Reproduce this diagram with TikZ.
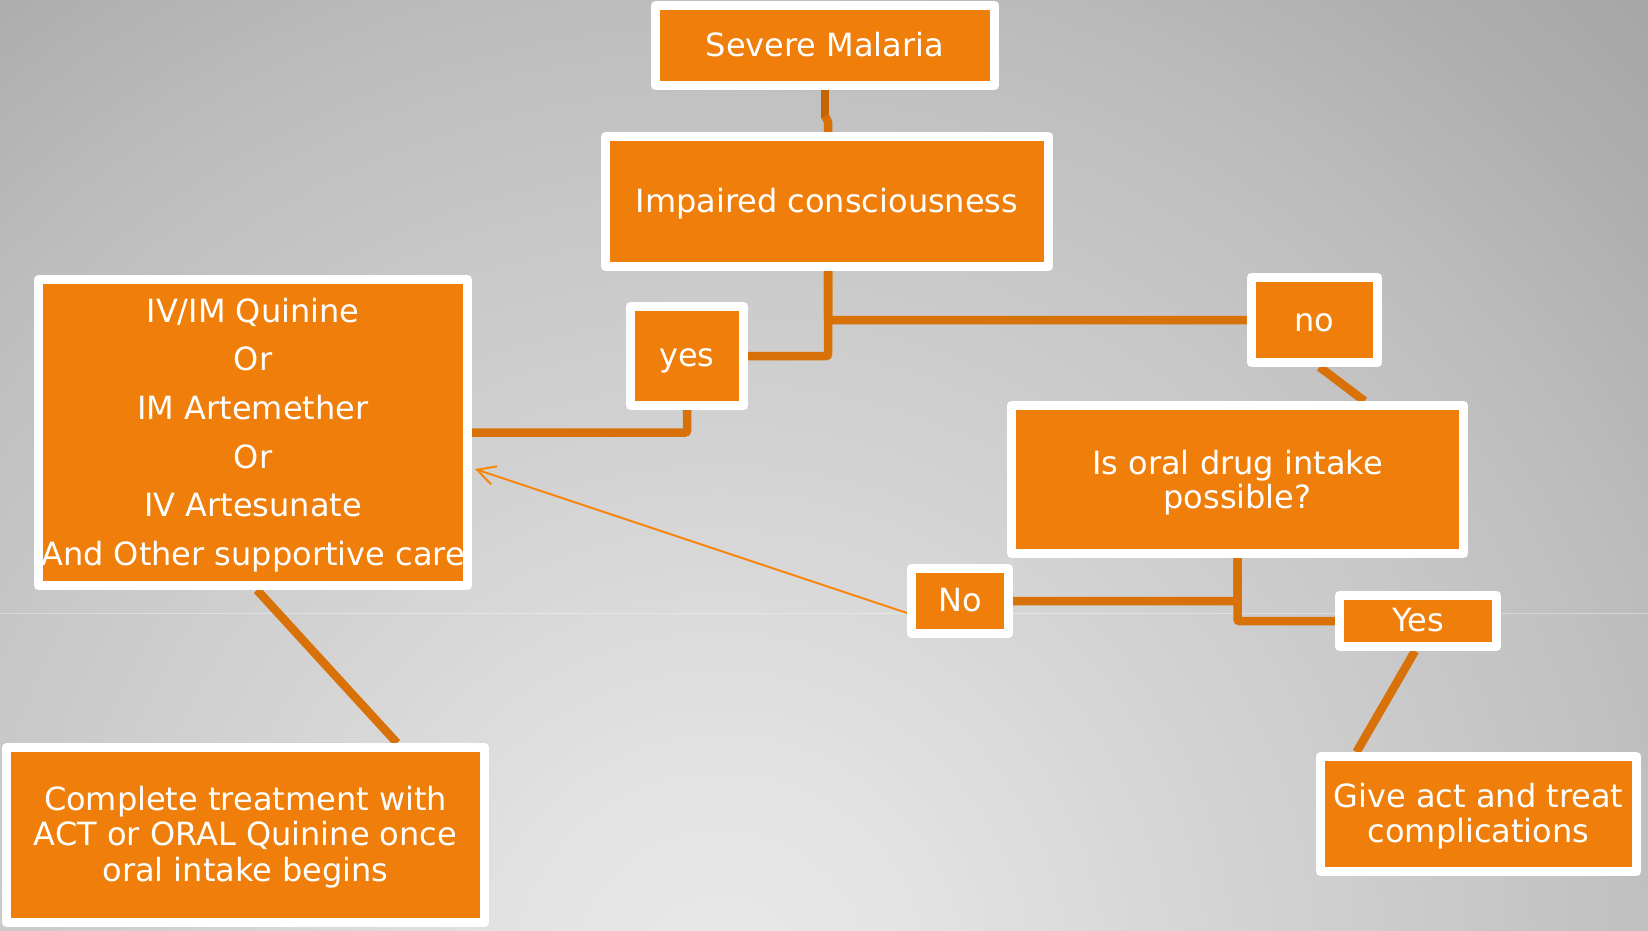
\documentclass[tikz,border=0pt]{standalone}
\usepackage{fontspec}
\setmainfont{DejaVu Sans}
\usetikzlibrary{arrows.meta,calc}
\definecolor{boxorange}{HTML}{EF7F0A}
\definecolor{lineorange}{HTML}{D87208}
\definecolor{linedark}{HTML}{C46404}
\definecolor{arroworange}{HTML}{F5870C}
\definecolor{bgA}{HTML}{E9E9E9}
\definecolor{bgB}{HTML}{E3E3E3}
\definecolor{bgC}{HTML}{D4D4D4}
\definecolor{bgD}{HTML}{C6C6C6}
\definecolor{bgE}{HTML}{BDBDBD}
\definecolor{bgF}{HTML}{ADADAD}
\definecolor{bgG}{HTML}{A6A6A6}
\definecolor{bgH}{HTML}{A5A5A5}
\pgfdeclareradialshading{bgshade}{\pgfpoint{0bp}{0bp}}{color(0bp)=(bgA); color(3.57bp)=(bgB); color(8.93bp)=(bgC); color(14.29bp)=(bgD); color(17.5bp)=(bgE); color(21.7bp)=(bgF); color(24.1bp)=(bgG); color(25bp)=(bgH); color(50bp)=(bgH)}
\pgfdeclarelayer{bg}
\pgfdeclarelayer{lines}
\pgfsetlayers{bg,lines,main}
\newcommand\boxtext[2][3.5pt]{\raisebox{-#1}[\height][\depth]{\begin{tabular}{@{}c@{}}#2\end{tabular}}}
\begin{document}
\begin{tikzpicture}[x=1pt,y=-1pt,
  box/.style={draw=white, fill=boxorange, line width=9pt, line join=round,
    text=white, font=\fontsize{32}{35}\selectfont, inner sep=0pt},
  conn/.style={draw=lineorange, line width=8.5pt, rounded corners=2pt},
  arr/.style={draw=arroworange, line width=2pt, -{Straight Barb[length=18pt,width=19pt]}}
]
\useasboundingbox (0,0) rectangle (1648,930);
\begin{pgfonlayer}{bg}
  \fill[bgH] (0,0) rectangle (1648,930);
  \begin{scope}
    \clip (0,0) rectangle (1648,930);
    \shade[shading=bgshade] (720,980) circle (1400);
  \end{scope}
  \draw[white, opacity=0.35, line width=1pt] (0,613) -- (1648,613);
\end{pgfonlayer}

\node[box, minimum width=339pt, minimum height=80pt] (sev) at (825,45.5) {\boxtext{Severe Malaria}};
\node[box, minimum width=443pt, minimum height=130pt] (imp) at (827,201.5) {\boxtext{Impaired consciousness}};
\node[box, minimum width=113pt, minimum height=99pt] (yes) at (687,356) {\boxtext{yes}};
\node[box, minimum width=126pt, minimum height=85pt] (no) at (1314.5,320) {\boxtext[4.5pt]{no}};
\node[box, minimum width=429pt, minimum height=306pt, font=\fontsize{32}{48.6}\selectfont] (iv) at (253,432.5)
  {\boxtext[1.5pt]{IV/IM Quinine\\Or\\IM Artemether\\Or\\IV Artesunate\\And Other supportive care}};
\node[box, minimum width=452pt, minimum height=148pt, font=\fontsize{32}{34}\selectfont] (oral) at (1237.5,479.5)
  {\boxtext[5pt]{Is oral drug intake\\possible?}};
\node[box, minimum width=97pt, minimum height=65pt] (nob) at (960,601) {\boxtext{No}};
\node[box, minimum width=157pt, minimum height=51pt] (yesb) at (1418,621) {\boxtext{Yes}};
\node[box, minimum width=316pt, minimum height=115pt] (give) at (1478.5,814)
  {\boxtext{Give act and treat\\complications}};
\node[box, minimum width=478pt, minimum height=175pt, font=\fontsize{32}{35.5}\selectfont] (comp) at (245.5,835)
  {\boxtext{Complete treatment with\\ACT or ORAL Quinine once\\oral intake begins}};

\begin{pgfonlayer}{lines}
  \draw[conn, draw=linedark, rounded corners=0pt] (sev.south) -- ($(sev.south)+(0,28)$);
  \draw[conn, rounded corners=0pt, line join=round] ($(sev.south)+(0,26)$) -- ($(sev.south)+(3,32)$) -- ($(imp.north)+(1,0)$);
  \draw[conn] ($(imp.south)+(1,0)$) |- (yes.east);
  \draw[conn] ($(imp.south)+(1,0)$) |- (no.west);
  \draw[conn] (yes.south) |- (iv.east);
  \draw[conn] ($(no.south)+(5,0)$) -- ($(oral.north)+(127,0)$);
  \draw[conn] (oral.south) |- (nob.east);
  \draw[conn] (oral.south) |- (yesb.west);
  \draw[conn] ($(yesb.south)+(-3,0)$) -- ($(give.north)+(-122,0)$);
  \draw[conn] ($(iv.south)+(4,0)$) -- ($(comp.north)+(151.5,0)$);
  \draw[arr] ($(nob.west)+(0,12)$) -- ($(iv.east)+(3,36.5)$);
\end{pgfonlayer}
\end{tikzpicture}
\end{document}
